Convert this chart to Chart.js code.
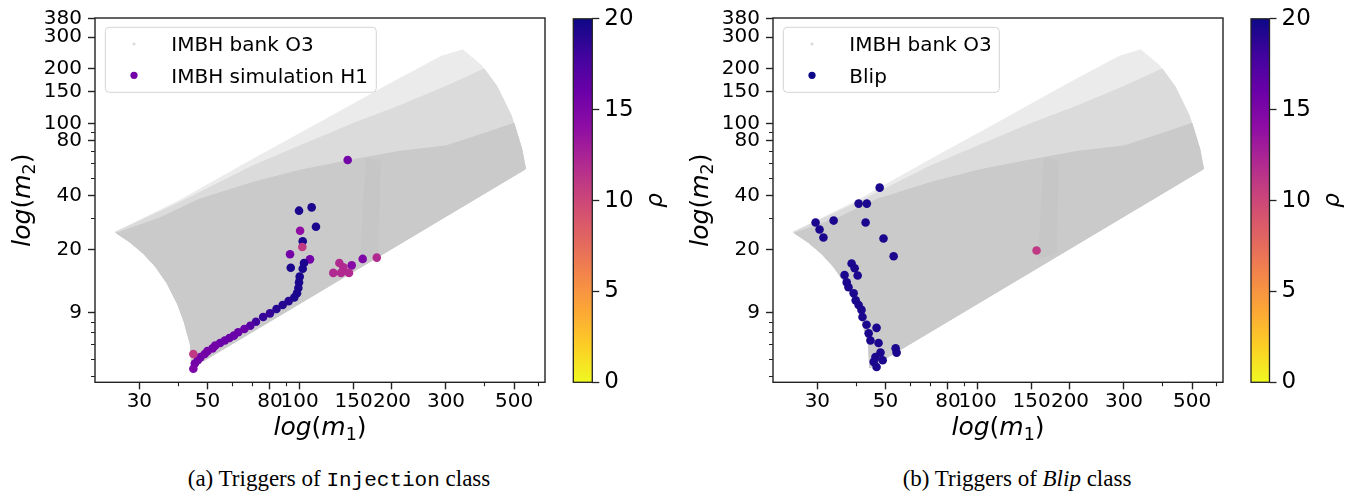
<!DOCTYPE html>
<html>
<head>
<meta charset="utf-8">
<script src="https://cdn.jsdelivr.net/npm/chart.js@4.4.1/dist/chart.umd.min.js"></script>
<style>
    body { margin: 0; background: #fff; }
    #wrap { position: relative; width: 1358px; height: 491px; overflow: hidden; }
    canvas { position: absolute; top: 0; }
    .cap { position: absolute; top: 466px; font-family: "Liberation Serif", serif; font-size: 23px; color: #000; white-space: nowrap; transform: translateX(-50%); }
    .cap .tt { font-family: "Liberation Mono", monospace; font-size: 21px; }
</style>
</head>
<body>
<div id="wrap">
    <canvas id="scatterA" width="560" height="445" style="left:0px"></canvas>
    <canvas id="barA" width="110" height="445" style="left:560px"></canvas>
    <canvas id="scatterB" width="560" height="445" style="left:678px"></canvas>
    <canvas id="barB" width="120" height="445" style="left:1238px"></canvas>
    <div class="cap" style="left:339px">(a) Triggers of <span class="tt">Injection</span> class</div>
    <div class="cap" style="left:1017px">(b) Triggers of <i>Blip</i> class</div>
</div>
<script>
"use strict";

/**
 * Ejes
 */
const xTicks = [30, 50, 80, 100, 150, 200, 300, 500];
const xMinor = [40, 60, 70, 90, 400, 600];
const yTicks = [9, 20, 40, 80, 100, 150, 200, 300, 380];
const yMinor = [4, 5, 6, 7, 8, 30, 50, 60, 70, 90];
const rhoTicks = [0, 5, 10, 15, 20];

/**
 * Banco IMBH O3 (contorno de la nube y zonas de densidad)
 */
const bankSparseM1 = [25, 40, 70, 120, 200, 290, 340, 390, 440, 490, 530, 545, 44.5, 44, 42, 40, 37, 34, 31, 28, 25];
const bankSparseM2 = [25, 37, 63, 104, 168, 235, 255, 210, 160, 110, 72, 56, 4.45, 6, 8, 10, 13, 16, 19, 22, 25];
const bankMidM1 = [25, 40, 70, 100, 150, 212, 300, 400, 440, 490, 530, 545, 44.5, 44, 42, 40, 37, 34, 31, 28, 25];
const bankMidM2 = [25, 36, 58, 75, 100, 125, 160, 200, 160, 110, 72, 56, 4.45, 6, 8, 10, 13, 16, 19, 22, 25];
const bankDenseM1 = [25.3, 35, 47, 70, 100, 150, 212, 300, 400, 500, 530, 545, 44.5, 44, 42, 40, 37, 34, 31, 28, 25.3];
const bankDenseM2 = [24.7, 30, 38, 47, 55, 63, 70, 75, 88, 100, 72, 56, 4.45, 6, 8, 10, 13, 16, 19, 22, 24.7];
const bankStreakM1 = [158, 180, 183, 165, 158];
const bankStreakM2 = [18, 19, 62, 64, 18];

/**
 * Simulacion H1
 */
const injM1 = [143.4, 99.5, 109.4, 113.0, 100.3, 102.3, 102.0, 93.0, 108.0, 93.5, 103.3, 102.3,
    134.7, 138.8, 147.8, 128.7, 136.4, 144.8, 160.5, 178.4,
    100, 99.5, 99, 98, 96, 92, 88, 84, 80, 76, 72, 69, 66, 63, 61, 59, 57, 55, 53, 52, 50, 49, 47.5, 46.5, 45.5, 45, 45];
const injM2 = [62.7, 32.9, 34.3, 26.8, 25.5, 22.3, 20.7, 18.9, 17.7, 15.9, 16.9, 15.7,
    16.9, 16.0, 16.4, 14.9, 14.9, 14.9, 17.8, 18.1,
    14.2, 13.2, 12.3, 11.5, 10.9, 10.4, 9.9, 9.4, 8.9, 8.5, 8.0, 7.6, 7.3, 7.0, 6.7, 6.5, 6.3, 6.1, 5.9, 5.7, 5.5, 5.3, 5.1, 4.9, 4.7, 4.4, 5.3];
const injRho = [15.5, 19.5, 19.5, 19.5, 14, 19.5, 11, 15.5, 15.5, 19.5, 19.5, 19.5,
    12, 12, 14.5, 12, 12, 12, 15, 12,
    19.5, 19.5, 19.5, 19.5, 19.5, 19, 19, 19, 18.5, 18.5, 18, 17, 16, 16, 16, 16, 16, 16, 15.5, 15.5, 15.5, 15.5, 15.5, 15.5, 15.5, 15, 11];

/**
 * Blip
 */
const blipM1 = [29.6, 30.5, 31.4, 33.9, 40.9, 43.5, 43.1, 47.9, 49.3, 53.2, 155.6,
    38.8, 39.7, 40.6, 36.8, 37.4, 37.9, 39.4, 40.0, 40.9, 41.8, 42.1, 43.4, 46.8, 44.1, 44.7, 47.5, 48.2, 46.4, 45.8, 46.8, 49.0, 54.0, 54.4];
const blipM2 = [28.3, 25.9, 23.4, 29.0, 36.0, 36.0, 28.3, 44.1, 23.1, 18.4, 19.8,
    16.8, 15.8, 14.4, 14.5, 13.2, 12.4, 11.5, 10.5, 9.9, 9.3, 8.5, 7.7, 7.4, 6.9, 6.3, 6.1, 5.4, 5.1, 4.8, 4.5, 4.9, 5.7, 5.4];
const blipRho = [19.5, 19.5, 19.5, 19.5, 19.5, 19.5, 19.5, 19.5, 19.5, 19.5, 11,
    19.5, 19.5, 19.5, 19.5, 19.5, 19.5, 19.5, 19.5, 19.5, 19.5, 19.5, 19.5, 19.5, 19.5, 19.5, 19.5, 19.5, 19.5, 19.5, 19.5, 19.5, 19.5, 19.5];

/**
 * Mapa de color plasma invertido (0 amarillo, 20 azul)
 */
const plasmaStops = ["#0d0887", "#41049d", "#6a00a8", "#8f0da4", "#b12a90", "#cc4778",
    "#e16462", "#f2844b", "#fca636", "#fcce25", "#f0f921"];

function hexToRgb(h) {
    return [1, 3, 5].map((i) => parseInt(h.slice(i, i + 2), 16));
}

function plasma(t) {
    t = Math.min(1, Math.max(0, t));
    const f = t * (plasmaStops.length - 1);
    const i = Math.min(plasmaStops.length - 2, Math.floor(f));
    const a = hexToRgb(plasmaStops[i]);
    const b = hexToRgb(plasmaStops[i + 1]);
    const k = f - i;
    const c = a.map((v, j) => Math.round(v + (b[j] - v) * k));
    return `rgb(${c[0]},${c[1]},${c[2]})`;
}

const rhoColor = (r) => plasma(1 - r / 20);

const toPoints = (xs, ys) => xs.map((x, i) => ({ x: x, y: ys[i] }));

function bankLayer(xs, ys, color, order) {
    return {
        data: toPoints(xs, ys),
        showLine: true,
        fill: "shape",
        backgroundColor: color,
        borderColor: color,
        borderWidth: 1,
        pointRadius: 0,
        tension: 0,
        order: order,
    };
}

function drawMath(ctx, cx, cy, rot, sub, size) {
    const parts = [
        ["log", "italic", 1, 0],
        ["(", "normal", 1, 0],
        ["m", "italic", 1, 0],
        [sub, "normal", 0.7, 0.2],
        [")", "normal", 1, 0],
    ];
    ctx.save();
    ctx.translate(cx, cy);
    ctx.rotate(rot);
    ctx.textBaseline = "alphabetic";
    ctx.textAlign = "left";
    ctx.fillStyle = "#000";
    let total = 0;
    const widths = parts.map(([t, st, sc]) => {
        ctx.font = `${st} ${size * sc}px "DejaVu Sans"`;
        const w = ctx.measureText(t).width;
        total += w;
        return w;
    });
    let x = -total / 2;
    parts.forEach(([t, st, sc, dy], i) => {
        ctx.font = `${st} ${size * sc}px "DejaVu Sans"`;
        ctx.fillText(t, x, dy * size);
        x += widths[i];
    });
    ctx.restore();
}

/**
 * Marcos, ticks menores, titulos y leyenda
 */
const panelDecor = {
    id: "panelDecor",
    afterDraw(chart, args, opts) {
        const { ctx, chartArea: a, scales } = chart;
        ctx.save();
        ctx.strokeStyle = "#222";
        ctx.lineWidth = 1.1;
        ctx.beginPath();
        xMinor.forEach((v) => {
            const px = Math.round(scales.x.getPixelForValue(v)) + 0.5;
            ctx.moveTo(px, a.bottom);
            ctx.lineTo(px, a.bottom + 4);
        });
        yMinor.forEach((v) => {
            const py = Math.round(scales.y.getPixelForValue(v)) + 0.5;
            ctx.moveTo(a.left - 4, py);
            ctx.lineTo(a.left, py);
        });
        ctx.stroke();

        ctx.lineWidth = 1.4;
        ctx.strokeRect(a.left, a.top, a.right - a.left, a.bottom - a.top);

        drawMath(ctx, (a.left + a.right) / 2, 435, 0, "1", 25);
        drawMath(ctx, 30, (a.top + a.bottom) / 2, -Math.PI / 2, "2", 25);

        // leyenda
        const bx = a.left + 10.3;
        const by = 27.3;
        ctx.beginPath();
        ctx.roundRect(bx, by, opts.boxWidth, 65, 4);
        ctx.fillStyle = "rgba(255,255,255,0.85)";
        ctx.fill();
        ctx.strokeStyle = "#d4d4d4";
        ctx.lineWidth = 1;
        ctx.stroke();

        ctx.font = '20px "DejaVu Sans"';
        ctx.textBaseline = "alphabetic";
        ctx.fillStyle = "#000";
        ctx.fillText(opts.labels[0], bx + 66, 51);
        ctx.fillText(opts.labels[1], bx + 66, 82.7);

        ctx.beginPath();
        ctx.arc(bx + 28.7, 44, 1.5, 0, Math.PI * 2);
        ctx.fillStyle = "#dadada";
        ctx.fill();
        ctx.beginPath();
        ctx.arc(bx + 28.7, 75.3, 3.6, 0, Math.PI * 2);
        ctx.fillStyle = opts.markerColor;
        ctx.fill();
        ctx.restore();
    },
};

function panelChart(id, m1, m2, rho, labels, boxWidth, markerColor) {
    return new Chart(document.getElementById(id), {
        type: "scatter",
        data: {
            datasets: [
                bankLayer(bankSparseM1, bankSparseM2, "#ebebeb", 5),
                bankLayer(bankMidM1, bankMidM2, "#dbdbdb", 4),
                bankLayer(bankDenseM1, bankDenseM2, "#cacaca", 3),
                bankLayer(bankStreakM1, bankStreakM2, "#c6c6c6", 2),
                {
                    data: toPoints(m1, m2),
                    backgroundColor: rho.map(rhoColor),
                    borderWidth: 0,
                    pointRadius: 4.3,
                    order: 1,
                },
            ],
        },
        options: {
            responsive: false,
            animation: false,
            events: [],
            layout: { padding: { left: 0, right: 15, top: 16.7, bottom: 0 } },
            plugins: {
                legend: { display: false },
                tooltip: { enabled: false },
                panelDecor: { labels: labels, boxWidth: boxWidth, markerColor: markerColor },
            },
            scales: {
                x: {
                    type: "logarithmic",
                    min: 21.5,
                    max: 631,
                    border: { display: false },
                    grid: { drawOnChartArea: false, tickLength: 7, tickWidth: 1.4, tickColor: "#222" },
                    ticks: {
                        autoSkip: false,
                        maxRotation: 0,
                        padding: 0,
                        color: "#000",
                        font: { family: "DejaVu Sans", size: 20 },
                        callback: (v) => String(v),
                    },
                    afterBuildTicks: (ax) => {
                        ax.ticks = xTicks.map((v) => ({ value: v }));
                    },
                    afterFit: (ax) => {
                        ax.height = 62.7;
                    },
                },
                y: {
                    type: "logarithmic",
                    min: 3.7,
                    max: 382.4,
                    border: { display: false },
                    grid: { drawOnChartArea: false, tickLength: 7, tickWidth: 1.4, tickColor: "#222" },
                    ticks: {
                        autoSkip: false,
                        padding: 6,
                        color: "#000",
                        font: { family: "DejaVu Sans", size: 20 },
                        callback: (v) => String(v),
                    },
                    afterBuildTicks: (ax) => {
                        ax.ticks = yTicks.map((v) => ({ value: v }));
                    },
                    afterFit: (ax) => {
                        ax.width = 95;
                    },
                },
            },
        },
        plugins: [panelDecor],
    });
}

/**
 * Barra de color
 */
const cbDecor = {
    id: "cbDecor",
    afterDraw(chart) {
        const { ctx, chartArea: a } = chart;
        ctx.save();
        ctx.strokeStyle = "#222";
        ctx.lineWidth = 1.3;
        ctx.strokeRect(a.left, a.top, a.right - a.left, a.bottom - a.top);
        ctx.translate(a.right + 64, (a.top + a.bottom) / 2);
        ctx.rotate(-Math.PI / 2);
        ctx.font = 'italic 23px "DejaVu Sans"';
        ctx.textAlign = "center";
        ctx.textBaseline = "middle";
        ctx.fillStyle = "#000";
        ctx.fillText("ρ", 0, 0);
        ctx.restore();
    },
};

function colorbarChart(id, padLeft, barWidth) {
    const canvas = document.getElementById(id);
    return new Chart(canvas, {
        type: "bar",
        data: {
            labels: [""],
            datasets: [
                {
                    data: [[rhoTicks[0], rhoTicks[rhoTicks.length - 1]]],
                    barPercentage: 1,
                    categoryPercentage: 1,
                    borderWidth: 0,
                    backgroundColor: (c) => {
                        const y = c.chart.scales.y;
                        const y0 = y ? y.getPixelForValue(0) : NaN;
                        const y1 = y ? y.getPixelForValue(20) : NaN;
                        if (!isFinite(y0) || !isFinite(y1)) {
                            return rhoColor(10);
                        }
                        const g = c.chart.ctx.createLinearGradient(0, y0, 0, y1);
                        for (let i = 0; i <= 20; i++) {
                            g.addColorStop(i / 20, rhoColor(i));
                        }
                        return g;
                    },
                },
            ],
        },
        options: {
            responsive: false,
            animation: false,
            events: [],
            layout: { padding: { left: padLeft, right: 0, top: 17.3, bottom: 62.7 } },
            plugins: { legend: { display: false }, tooltip: { enabled: false } },
            scales: {
                x: { display: false },
                y: {
                    position: "right",
                    min: 0,
                    max: 20,
                    border: { display: false },
                    grid: { drawOnChartArea: false, tickLength: 7, tickWidth: 1.3, tickColor: "#222" },
                    ticks: {
                        stepSize: 5,
                        padding: 5,
                        color: "#000",
                        font: { family: "DejaVu Sans", size: 23 },
                    },
                    afterFit: (ax) => {
                        ax.width = canvas.width - padLeft - barWidth;
                    },
                },
            },
        },
        plugins: [cbDecor],
    });
}

panelChart("scatterA", injM1, injM2, injRho, ["IMBH bank O3", "IMBH simulation H1"], 271, rhoColor(15.5));
colorbarChart("barA", 13.3, 19);
panelChart("scatterB", blipM1, blipM2, blipRho, ["IMBH bank O3", "Blip"], 216, rhoColor(20));
colorbarChart("barB", 13, 18.5);
</script>
</body>
</html>
